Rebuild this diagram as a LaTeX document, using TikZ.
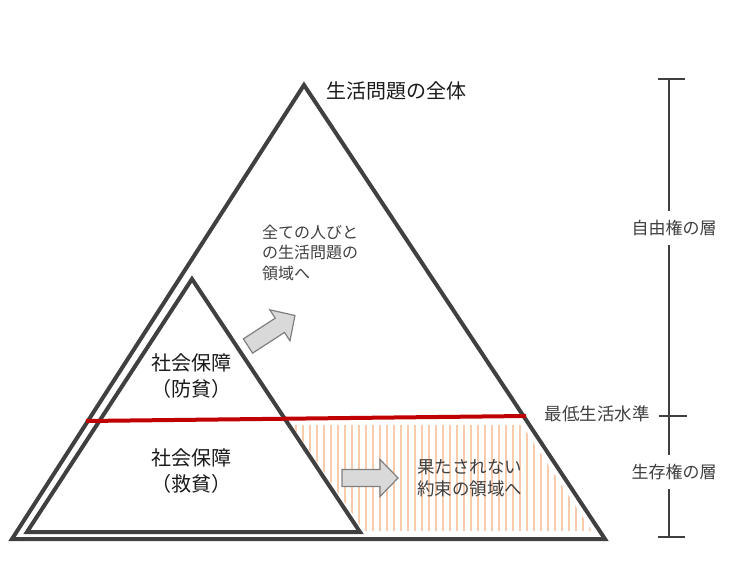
\documentclass[tikz,border=0pt]{standalone}
\usepackage{fontspec}
\setmainfont{Noto Sans CJK JP}
\usepackage{tikz}
\definecolor{edge}{HTML}{404040}
\definecolor{minline}{HTML}{C00000}
\definecolor{hatch}{HTML}{F8CBAD}
\definecolor{arrowfill}{HTML}{D9D9D9}
\definecolor{arrowedge}{HTML}{7F7F7F}
\definecolor{bodytext}{HTML}{404040}
\definecolor{headtext}{HTML}{1A1A1A}
\usetikzlibrary{
  arrows.meta, positioning, calc
}

\begin{document}
\begin{tikzpicture}[x=1pt, y=-1pt,
  tri/.style={draw=edge, line width=4pt, line join=miter},
  level/.style={draw=minline, line width=4pt},
  hatchline/.style={draw=hatch, line width=1.6pt},
  bar/.style={draw=edge, line width=2.6pt},
  lbl/.style={inner sep=0pt, text=bodytext, font=\fontsize{17.5}{22}\selectfont},
  head/.style={inner sep=0pt, text=headtext, align=center,
               font=\fontsize{20}{26}\selectfont},
  layer/.style={lbl, fill=white, inner xsep=1pt, inner ysep=9pt,
                font=\fontsize{17}{20}\selectfont},
  grayarrow/.pic={
    \draw[fill=arrowfill, draw=arrowedge, line width=1.2pt, line join=miter]
      (0,-8.5) -- (38,-8.5) -- (38,-18.5) -- (56,0) -- (38,18.5)
      -- (38,8.5) -- (0,8.5) -- cycle;
  }
]
\useasboundingbox (0,0) rectangle (748,567);

% pyramids
\coordinate (top) at (304,85);
\coordinate (bl) at (12,539);
\coordinate (br) at (605,539);
\coordinate (itop) at (192,279);
\coordinate (ibl) at (27,532);
\coordinate (ibr) at (360,532);

% unmet area below the minimum
\coordinate (hTL) at (292,425);
\coordinate (hTR) at (522,425);
\coordinate (hBR) at (592,531);
\coordinate (hBL) at (364,531);
\begin{scope}
  \clip (hTL) -- (hTR) -- (hBR) -- (hBL) -- cycle;
  \foreach \x in {296,303,...,596}
    \draw[hatchline] (\x,420) -- (\x,540);
\end{scope}

\draw[tri] (top) -- (br) -- (bl) -- cycle;
\draw[tri] (itop) -- (ibr) -- (ibl) -- cycle;

\coordinate (mlL) at (86,421);
\coordinate (mlR) at (526,416);
\draw[level] (mlL) -- (mlR);

\pic[rotate=33] at (248,346) {grayarrow};
\pic at (342,478) {grayarrow};

\node[head, anchor=west] (whole) at (326,91) {生活問題の全体};
\node[lbl, anchor=west, align=left, font=\fontsize{16}{20.5}\selectfont]
  (everyone) at (262,252.5) {全ての人びと\\の生活問題の\\領域へ};
\node[head] (prevent) at (191,376) {社会保障\\（防貧）};
\node[head] (relief) at (191,471) {社会保障\\（救貧）};
\node[lbl, anchor=west, align=left] (promise) at (417,478)
  {果たされない\\約束の領域へ};
\node[lbl, anchor=east] (minimum) at (650,414) {最低生活水準};

% layers scale
\coordinate (bartop) at (669,79);
\coordinate (barmid) at (669,416);
\coordinate (barbot) at (669,537);
\draw[bar] (bartop) -- (barbot);
\draw[bar] ($(bartop)+(-11,0)$) -- ($(bartop)+(16,0)$);
\draw[bar] ($(barmid)+(-10,0)$) -- ($(barmid)+(18,0)$);
\draw[bar] ($(barbot)+(-11,0)$) -- ($(barbot)+(16,0)$);
\node[layer] (freedom) at (674,228) {自由権の層};
\node[layer] (survival) at (674,472) {生存権の層};
\end{tikzpicture}
\end{document}
